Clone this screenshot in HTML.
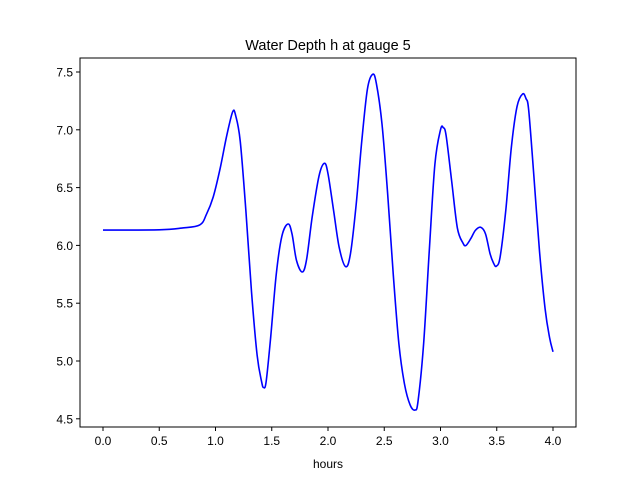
<!DOCTYPE html>
<html><head><meta charset="utf-8"><style>
body{margin:0;background:#fff}
svg{display:block;font-family:"Liberation Sans","DejaVu Sans",sans-serif}
</style></head><body>
<svg width="640" height="480">
<rect width="640" height="480" fill="#fff"/>
<text x="328" y="50" font-size="14.5" text-anchor="middle">Water Depth h at gauge 5</text>
<g id="xt"></g><g id="yt"></g>
<path id="line" fill="none" stroke="#0000ff" stroke-width="1.6"/>
<rect x="80" y="58" width="496" height="369" fill="none" stroke="#000" stroke-width="1"/>
<text x="328" y="468" font-size="12" text-anchor="middle">hours</text>
</svg>
<script>
const hours=[0,0.5,0.7,0.86,0.92,0.98,1.04,1.1,1.153,1.18,1.22,1.27,1.32,1.37,1.41,1.428,1.45,1.49,1.54,1.59,1.645,1.68,1.72,1.772,1.81,1.86,1.92,1.968,2.0,2.05,2.1,2.157,2.2,2.25,2.3,2.35,2.397,2.43,2.48,2.53,2.58,2.63,2.68,2.73,2.773,2.8,2.85,2.9,2.95,3.0,3.025,3.05,3.1,3.15,3.2,3.227,3.27,3.31,3.357,3.4,3.44,3.47,3.496,3.53,3.58,3.63,3.68,3.73,3.76,3.784,3.83,3.88,3.93,3.97,4.0];
const depth=[6.133,6.135,6.15,6.177,6.27,6.42,6.66,6.95,7.157,7.12,6.9,6.3,5.6,5.05,4.82,4.77,4.82,5.2,5.75,6.08,6.185,6.1,5.87,5.77,5.88,6.25,6.6,6.71,6.62,6.3,5.98,5.816,5.93,6.35,6.9,7.35,7.48,7.4,7.05,6.45,5.75,5.15,4.8,4.62,4.576,4.65,5.15,5.95,6.7,7.0,7.018,6.95,6.55,6.15,6.02,6.0,6.06,6.13,6.157,6.1,5.93,5.85,5.82,5.9,6.3,6.85,7.2,7.31,7.27,7.17,6.6,5.95,5.45,5.2,5.08];
const xTicks=[0,0.5,1,1.5,2,2.5,3,3.5,4];
const yTicks=[4.5,5,5.5,6,6.5,7,7.5];
const xs=v=>103+v*112.5, ys=v=>72+(7.5-v)*115.6;
const ns="http://www.w3.org/2000/svg";
function mk(tag,attrs,parent){const e=document.createElementNS(ns,tag);for(const k in attrs)e.setAttribute(k,attrs[k]);parent.appendChild(e);return e;}
const xt=document.getElementById('xt'),yt=document.getElementById('yt');
xTicks.forEach(t=>{const x=xs(t);
const l=mk('line',{x1:x,x2:x,y1:427,y2:431,stroke:'#000'},xt);


const tx=mk('text',{x:x,y:445,'font-size':12,'text-anchor':'middle'},xt);tx.textContent=t.toFixed(1);

});
yTicks.forEach(t=>{const y=ys(t);
const l=mk('line',{x1:76,x2:80,y1:y,y2:y,stroke:'#000'},yt);


const tx=mk('text',{x:73,y:y+4.5,'font-size':12,'text-anchor':'end'},yt);tx.textContent=t.toFixed(1);

});
const P=hours.map((h,i)=>[xs(h),ys(depth[i])]);
let d='M'+P[0][0]+','+P[0][1];
for(let i=0;i<P.length-1;i++){const p0=P[Math.max(0,i-1)],p1=P[i],p2=P[i+1],p3=P[Math.min(P.length-1,i+2)];
const c1=[p1[0]+(p2[0]-p0[0])/6,p1[1]+(p2[1]-p0[1])/6],c2=[p2[0]-(p3[0]-p1[0])/6,p2[1]-(p3[1]-p1[1])/6];
d+=`C${c1[0]},${c1[1]} ${c2[0]},${c2[1]} ${p2[0]},${p2[1]}`;}
document.getElementById('line').setAttribute('d',d);
</script>
</body></html>
